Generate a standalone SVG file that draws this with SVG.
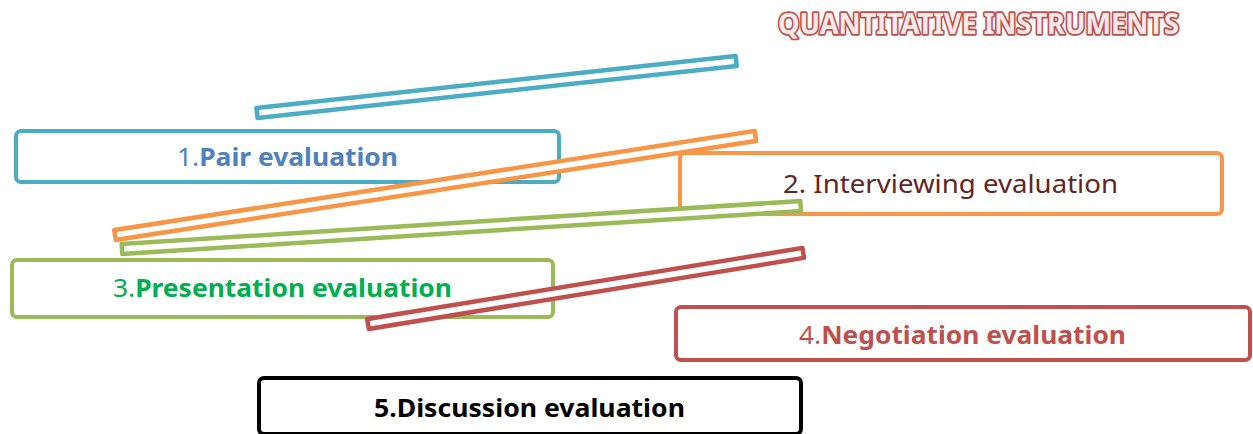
<svg xmlns="http://www.w3.org/2000/svg" width="1253" height="434" viewBox="0 0 1253 434">
<style>
.box{fill:#fff;stroke-width:4}
.bar{fill:#fff;stroke-width:4.5;stroke-linejoin:round}
text{font-family:"Noto Sans","Open Sans","Liberation Sans",sans-serif;font-size:25px}
.b{font-weight:bold}
</style>
<rect width="1253" height="434" fill="#fff"/>
<g id="title">
<text x="778" y="34" class="b" textLength="401" lengthAdjust="spacingAndGlyphs" style="font-size:29px;fill:#FBEAEA;stroke:#C0504D;stroke-width:3.6;paint-order:stroke;stroke-linejoin:round">QUANTITATIVE INSTRUMENTS</text>
</g>
<g id="node1">
<rect class="box" x="16" y="131" width="543" height="51" rx="5" stroke="#4BACC6"/>
<text x="177" y="166" textLength="221" lengthAdjust="spacingAndGlyphs" fill="#4F81BD">1.<tspan class="b">Pair evaluation</tspan></text>
</g>
<g id="node2">
<rect class="box" x="680" y="153" width="542" height="61" rx="5" stroke="#F79646"/>
<text x="783" y="193" textLength="335" lengthAdjust="spacingAndGlyphs" fill="#632423">2. Interviewing evaluation</text>
</g>
<g id="node3">
<rect class="box" x="12" y="260" width="541" height="57" rx="5" stroke="#9BBB59"/>
<text x="113" y="297" textLength="339" lengthAdjust="spacingAndGlyphs" fill="#00B050">3.<tspan class="b">Presentation evaluation</tspan></text>
</g>
<g id="node4">
<rect class="box" x="676" y="307" width="574" height="53" rx="5" stroke="#C0504D"/>
<text x="799" y="344" textLength="327" lengthAdjust="spacingAndGlyphs" fill="#C0504D">4.<tspan class="b">Negotiation evaluation</tspan></text>
</g>
<g id="node5">
<rect class="box" x="259" y="378" width="542" height="56" rx="5" stroke="#000"/>
<text x="374" y="417" class="b" textLength="311" lengthAdjust="spacingAndGlyphs" fill="#000">5.Discussion evaluation</text>
</g>
<g id="connectors">
<rect class="bar" stroke="#4BACC6" x="0" y="-5" width="482" height="10" transform="translate(257 113) rotate(-6.2)"/>
<rect class="bar" stroke="#F79646" x="0" y="-5" width="648" height="10" transform="translate(115 235) rotate(-8.79)"/>
<rect class="bar" stroke="#9BBB59" x="0" y="-5" width="680" height="10" transform="translate(122 249) rotate(-3.62)"/>
<rect class="bar" stroke="#C0504D" x="0" y="-5" width="441" height="10" transform="translate(368 324) rotate(-9.27)"/>
</g>
</svg>
